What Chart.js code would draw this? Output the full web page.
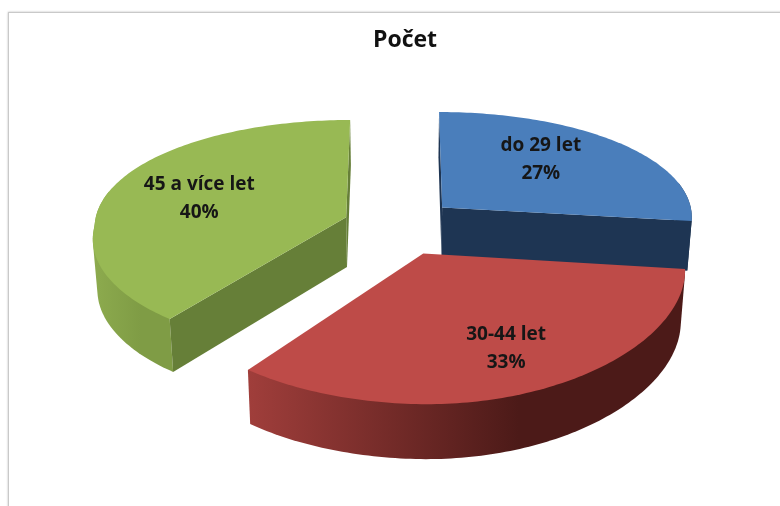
<!DOCTYPE html>
<html lang="cs">
<head>
<meta charset="utf-8">
<title>Počet</title>
<script src="https://cdn.jsdelivr.net/npm/chart.js@4"></script>
<style>
  html, body { margin: 0; padding: 0; background: #fff; overflow: hidden; }
  #frame { position: absolute; left: 8px; top: 12px; width: 780px; height: 506px;
           border: 1px solid #c9c9c9; box-shadow: 0 0 2px #bbb; }
  #wrap { position: absolute; left: 0; top: 0; width: 780px; height: 506px; filter: blur(0.4px); }
</style>
</head>
<body>
<div id="frame"></div>
<div id="wrap"><canvas id="chart" width="780" height="506"></canvas></div>
<script>
// ---------- data ----------
const titleText = 'Počet';
const categories = ['do 29 let', '30-44 let', '45 a více let'];
const counts = [27, 33, 40];

// ---------- colours ----------
const topColors = ['#4a7ebb', '#be4b48', '#98b954'];
const cutColors = ['#1e3553', '#5a1f1d', '#667f38'];
const wallColors = [['#1e3553', '#1e3553'], ['#a03e3b', '#4c1a18'], ['#8dab4e', '#7f9c45']];

// ---------- fake 3D: tilted disc seen in perspective ----------
const view = {
  cx: 400, cy: 226, sx: 252, sy: 110,
  kxBack: 0.08, kxLeft: 0.167, kxRight: 0.12, kyBack: 0.112, kyFront: 0.19,
  explodeX: 0.226, explodeY: 0.26, shrink: 0.985
};
const labelRadius = [0.62, 0.72, 0.63];
const labelNudge = [[-12, -6], [0, 3], [0, 2]];
const drawOrder = [2, 0, 1]; // back to front

const project = (u, v) => {
  const kx = v < 0 ? view.kxBack : (u < 0 ? view.kxLeft : view.kxRight);
  const ky = v < 0 ? view.kyBack : view.kyFront;
  return {
    x: view.cx + u * view.sx / (1 - kx * v),
    y: view.cy + v * view.sy / (1 - ky * v)
  };
};
// same disc point on the underside of the pie
const lower = (p, v) => ({
  x: view.cx + (p.x - view.cx) * view.shrink,
  y: p.y + 50 + 4 * v
});
const area = (pts) => pts.reduce((s, p, i) => {
  const q = pts[(i + 1) % pts.length];
  return s + p.x * q.y - q.x * p.y;
}, 0);
const hull = (pts) => {
  const sorted = pts.slice().sort((a, b) => a.x - b.x || a.y - b.y);
  const cross = (o, a, b) => (a.x - o.x) * (b.y - o.y) - (a.y - o.y) * (b.x - o.x);
  const half = (list) => {
    const out = [];
    list.forEach((p) => {
      while (out.length > 1 && cross(out[out.length - 2], out[out.length - 1], p) <= 0) out.pop();
      out.push(p);
    });
    out.pop();
    return out;
  };
  return [...half(sorted), ...half(sorted.slice().reverse())];
};
const fillPoly = (ctx, pts, color) => {
  ctx.beginPath();
  pts.forEach((p, i) => (i ? ctx.lineTo(p.x, p.y) : ctx.moveTo(p.x, p.y)));
  ctx.closePath();
  ctx.fillStyle = color;
  ctx.fill();
};

const pie3d = {
  id: 'pie3d',
  beforeDatasetsDraw(chart) {
    const { ctx } = chart;
    const arcs = chart.getDatasetMeta(0).data;
    const total = counts.reduce((a, b) => a + b, 0);
    ctx.save();

    drawOrder.forEach((i) => {
      const arc = arcs[i];
      const start = arc.startAngle, end = arc.endAngle, mid = (start + end) / 2;
      const ou = Math.cos(mid) * view.explodeX, ov = Math.sin(mid) * view.explodeY;

      const at = (a) => {
        const u = ou + Math.cos(a), v = ov + Math.sin(a);
        const p = project(u, v);
        return { p, b: lower(p, v), a };
      };
      const apex = project(ou, ov);
      const apexB = lower(apex, ov);
      const steps = Math.ceil((end - start) / (Math.PI / 180));
      const rim = [];
      for (let s = 0; s <= steps; s++) rim.push(at(start + (end - start) * s / steps));

      // outer wall: hull of the front rim, so the silhouette stays smooth
      const front = rim.filter(r => Math.sin(r.a) >= -0.25);
      if (front.length > 1) {
        const xs = front.map(r => r.p.x);
        const grad = ctx.createLinearGradient(Math.min(...xs), 0, Math.max(...xs), 0);
        grad.addColorStop(0, wallColors[i][0]);
        grad.addColorStop(0.62, wallColors[i][1]);
        grad.addColorStop(1, wallColors[i][1]);
        fillPoly(ctx, hull([...front.map(r => r.p), ...front.map(r => r.b)]), grad);
      }

      // the two cut faces, culled by winding
      const last = rim[rim.length - 1];
      const endFace = [apex, last.p, last.b, apexB];
      const startFace = [apex, apexB, rim[0].b, rim[0].p];
      if (area(startFace) > 0) fillPoly(ctx, startFace, cutColors[i]);
      if (area(endFace) > 0) fillPoly(ctx, endFace, cutColors[i]);

      // top surface
      fillPoly(ctx, [apex, ...rim.map(r => r.p)], arc.options.backgroundColor);
    });

    // labels: category + share, same projection as the slices
    ctx.fillStyle = '#161616';
    ctx.font = 'bold 19px "Open Sans", sans-serif';
    ctx.textAlign = 'center';
    ctx.textBaseline = 'middle';
    arcs.forEach((arc, i) => {
      const mid = (arc.startAngle + arc.endAngle) / 2;
      const c = project(
        Math.cos(mid) * (view.explodeX + labelRadius[i]),
        Math.sin(mid) * (view.explodeY + labelRadius[i])
      );
      const x = c.x + labelNudge[i][0], y = c.y + labelNudge[i][1];
      ctx.fillText(categories[i], x, y - 14);
      ctx.fillText(Math.round(counts[i] / total * 100) + '%', x, y + 14);
    });

    ctx.restore();
    return false; // skip the flat pie
  }
};

new Chart(document.getElementById('chart'), {
  type: 'pie',
  data: {
    labels: categories,
    datasets: [{ data: counts, backgroundColor: topColors, borderWidth: 0 }]
  },
  plugins: [pie3d],
  options: {
    responsive: false,
    animation: false,
    layout: { padding: { left: 30, right: 0 } },
    plugins: {
      legend: { display: false },
      tooltip: { enabled: false },
      title: {
        display: true,
        text: titleText,
        color: '#111',
        font: { family: '"Open Sans", sans-serif', size: 23, weight: 'bold' },
        padding: { top: 27, bottom: 10 }
      }
    }
  }
});
</script>
</body>
</html>
